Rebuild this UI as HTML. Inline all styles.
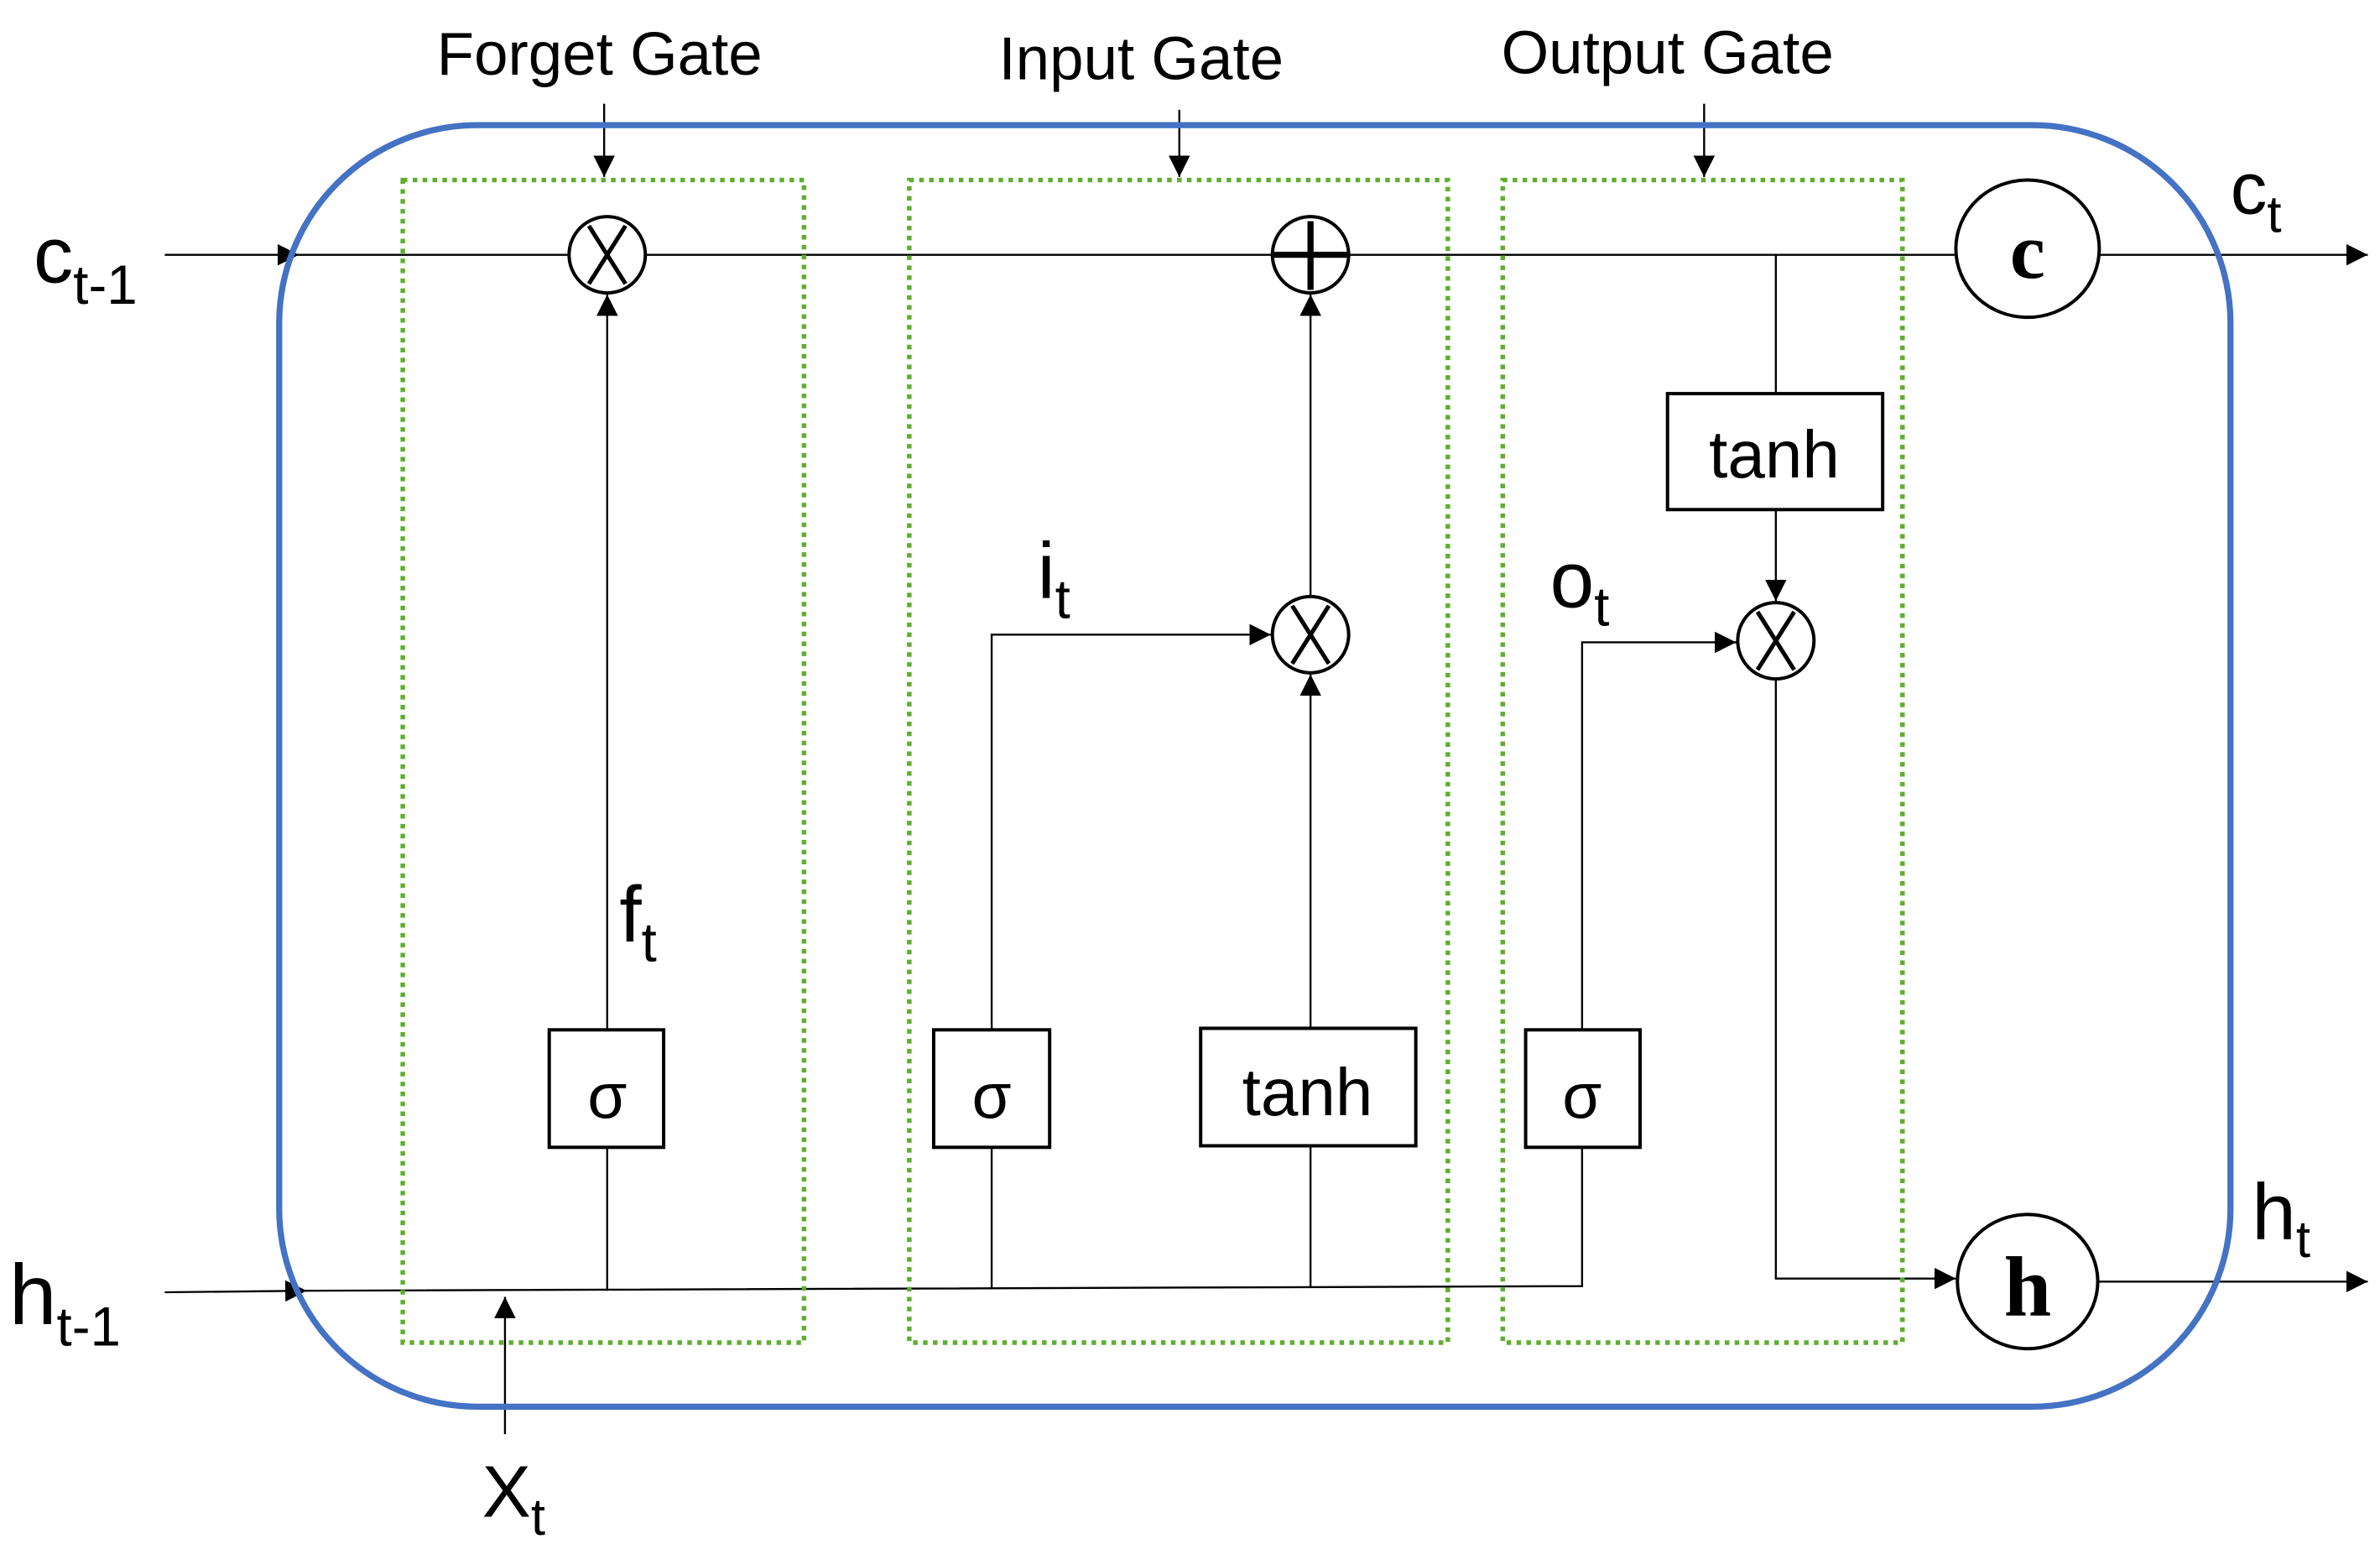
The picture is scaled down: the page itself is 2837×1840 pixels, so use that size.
<!DOCTYPE html>
<html><head><meta charset="utf-8"><style>
html,body{margin:0;padding:0;background:#fff;}
svg{display:block;}
text{font-family:"Liberation Sans","DejaVu Sans",sans-serif;fill:#000;}
.ser{font-family:"Liberation Serif",serif;font-weight:bold;}
</style></head><body>
<svg width="2837" height="1840" viewBox="0 0 1560 1012" preserveAspectRatio="none" xmlns="http://www.w3.org/2000/svg">
<defs>
<marker id="a" viewBox="0 0 10 10" refX="10" refY="5" markerWidth="14" markerHeight="14" markerUnits="userSpaceOnUse" orient="auto"><path d="M0,0 L10,5 L0,10 z" fill="#000"/></marker>
</defs>
<g fill="none" stroke="#000" stroke-width="1.3">
<line x1="396" y1="68" x2="396" y2="116" marker-end="url(#a)"/>
<line x1="773" y1="72" x2="773" y2="116" marker-end="url(#a)"/>
<line x1="1117" y1="68" x2="1117" y2="116" marker-end="url(#a)"/>
<line x1="108" y1="167" x2="196" y2="167" marker-end="url(#a)"/>
<line x1="196" y1="167" x2="373" y2="167"/>
<line x1="423" y1="167" x2="834" y2="167"/>
<line x1="884" y1="167" x2="1282" y2="167"/>
<line x1="1376" y1="167" x2="1552" y2="167" marker-end="url(#a)"/>
<line x1="108" y1="847" x2="201" y2="846" marker-end="url(#a)"/>
<polyline points="201,846 1037,843 1037,752"/>
<line x1="331" y1="940" x2="331" y2="850" marker-end="url(#a)"/>
<line x1="398" y1="846" x2="398" y2="752"/>
<line x1="398" y1="675" x2="398" y2="193" marker-end="url(#a)"/>
<line x1="650" y1="845" x2="650" y2="752"/>
<polyline points="650,675 650,416 833,416" marker-end="url(#a)"/>
<line x1="859" y1="844" x2="859" y2="751"/>
<line x1="859" y1="674" x2="859" y2="442" marker-end="url(#a)"/>
<line x1="859" y1="391" x2="859" y2="193" marker-end="url(#a)"/>
<polyline points="1037,675 1037,421 1138,421" marker-end="url(#a)"/>
<line x1="1164" y1="167" x2="1164" y2="258"/>
<line x1="1164" y1="334" x2="1164" y2="394" marker-end="url(#a)"/>
<polyline points="1164,445 1164,838 1282,838" marker-end="url(#a)"/>
<line x1="1376" y1="840" x2="1552" y2="840" marker-end="url(#a)"/>
</g>
<rect x="183" y="82" width="1279" height="840" rx="130" ry="130" fill="none" stroke="#4472C4" stroke-width="4"/>
<g fill="none" stroke="#5FAE2E" stroke-width="3" stroke-dasharray="3 3.5">
<rect x="264" y="118" width="263" height="762"/>
<rect x="596" y="118" width="353" height="762"/>
<rect x="985" y="118" width="262" height="762"/>
</g>
<g fill="#fff" stroke="#000" stroke-width="2.2">
<rect x="360" y="675" width="75" height="77"/>
<rect x="612" y="675" width="76" height="77"/>
<rect x="787" y="674" width="141" height="77"/>
<rect x="1000" y="675" width="75" height="77"/>
<rect x="1093" y="258" width="141" height="76"/>
<circle cx="398" cy="167" r="25"/>
<circle cx="859" cy="167" r="25"/>
<circle cx="859" cy="416" r="25"/>
<circle cx="1164" cy="420" r="25"/>
<ellipse cx="1329" cy="163" rx="47" ry="45"/>
<ellipse cx="1329" cy="840" rx="46" ry="44"/>
</g>
<g stroke="#000" stroke-width="2.8">
<line x1="386" y1="148" x2="410" y2="186"/><line x1="410" y1="148" x2="386" y2="186"/>
<line x1="847" y1="397" x2="871" y2="435"/><line x1="871" y1="397" x2="847" y2="435"/>
<line x1="1152" y1="401" x2="1176" y2="439"/><line x1="1176" y1="401" x2="1152" y2="439"/>
<line x1="834" y1="167" x2="884" y2="167" stroke-width="4"/><line x1="859" y1="145" x2="859" y2="190" stroke-width="4"/>
</g>
<text x="393" y="49" font-size="40" text-anchor="middle">Forget Gate</text>
<text x="748" y="52" font-size="40" text-anchor="middle">Input Gate</text>
<text x="1093" y="48" font-size="40" text-anchor="middle">Output Gate</text>
<text x="398" y="733" font-size="42" text-anchor="middle">σ</text>
<text x="650" y="733" font-size="42" text-anchor="middle">σ</text>
<text x="1037" y="733" font-size="42" text-anchor="middle">σ</text>
<text x="857" y="731" font-size="44" text-anchor="middle">tanh</text>
<text x="1163" y="313" font-size="44" text-anchor="middle">tanh</text>
<text x="1329" y="182" font-size="52" text-anchor="middle" class="ser">c</text>
<text x="1329" y="862" font-size="56" text-anchor="middle" class="ser">h</text>
<text x="22" y="185" font-size="52">c<tspan font-size="36" dy="14">t-1</tspan></text>
<text x="6" y="868" font-size="56">h<tspan font-size="36" dy="14">t-1</tspan></text>
<text x="1462" y="140" font-size="48">c<tspan font-size="34" dy="12">t</tspan></text>
<text x="1476" y="812" font-size="52">h<tspan font-size="34" dy="12">t</tspan></text>
<text x="316" y="994" font-size="48">X<tspan font-size="34" dy="12">t</tspan></text>
<text x="406" y="617" font-size="52">f<tspan font-size="36" dy="13">t</tspan></text>
<text x="680" y="392" font-size="52">i<tspan font-size="36" dy="13">t</tspan></text>
<text x="1016" y="398" font-size="52">o<tspan font-size="36" dy="12">t</tspan></text>
</svg>
</body></html>
